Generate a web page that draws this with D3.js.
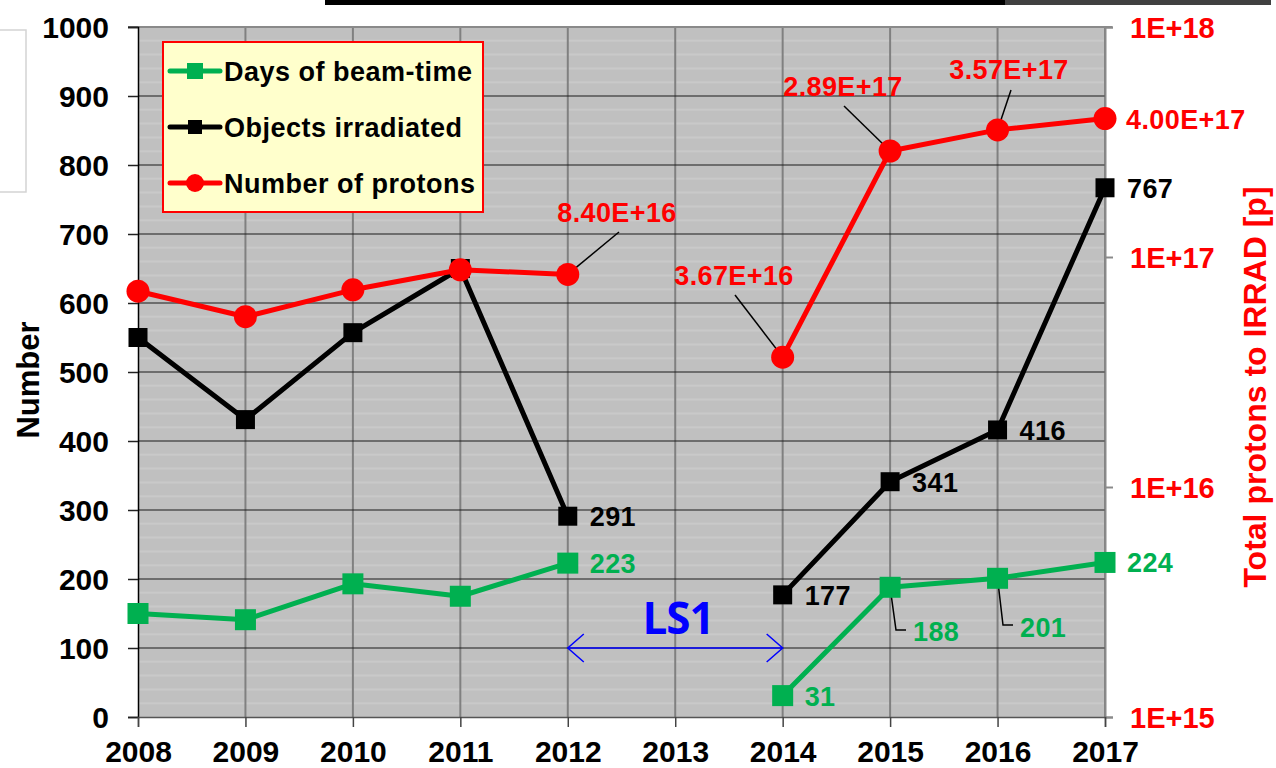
<!DOCTYPE html>
<html>
<head>
<meta charset="utf-8">
<script src="https://cdn.jsdelivr.net/npm/d3@7"></script>
<style>
  body { margin: 0; background: #fff; }
  svg { display: block; font-family: "Liberation Sans", Arial, sans-serif; font-weight: bold; }
</style>
</head>
<body>
<div id="chart"></div>
<script>
// data //
var years = [2008, 2009, 2010, 2011, 2012, 2013, 2014, 2015, 2016, 2017];
var daysBeam = [150, 141, 193, 175, 223, null, 31, 188, 201, 224];
var objects = [550, 431, 557, 650, 291, null, 177, 341, 416, 767];
var protons = [7.1e16, 5.5e16, 7.2e16, 8.8e16, 8.40e16, null, 3.67e16, 2.89e17, 3.57e17, 4.00e17];
var leftTicks = [0, 100, 200, 300, 400, 500, 600, 700, 800, 900, 1000];
var rightTicks = [1e15, 1e16, 1e17, 1e18];
var rightTickLabels = ["1E+15", "1E+16", "1E+17", "1E+18"];
var seriesNames = ["Days of beam-time", "Objects irradiated", "Number of protons"];

var W = 1276, H = 768;
var pLeft = 138, pRight = 1105, pTop = 27, pBottom = 717;
var green = "#00b050", red = "#ff0000";

var svg = d3.select("#chart").append("svg")
  .attr("width", W).attr("height", H);

// slide leftovers
svg.append("rect").attr("x", 325).attr("y", 0).attr("width", 680).attr("height", 5).attr("fill", "#000");
svg.append("rect").attr("x", 1005).attr("y", 0).attr("width", 266).attr("height", 5).attr("fill", "#404040");
svg.append("path").attr("d", "M0,30H26V192H0").attr("fill", "none").attr("stroke", "#d4d4d4").attr("stroke-width", 1.5);

var x = d3.scaleLinear().domain([2008, 2017]).range([pLeft, pRight]);
var y = d3.scaleLinear().domain([0, 1000]).range([pBottom, pTop]);
var yr = d3.scaleLog().domain([1e15, 1e18]).range([pBottom, pTop]);

// plot background
svg.append("rect").attr("x", pLeft).attr("y", pTop)
  .attr("width", pRight - pLeft).attr("height", pBottom - pTop).attr("fill", "#c0c0c0");

// minor gridlines
svg.append("g").selectAll("line")
  .data(d3.range(20, 1000, 20).filter(function(d){ return d % 100 != 0; }))
  .enter().append("line")
  .attr("x1", pLeft).attr("x2", pRight)
  .attr("y1", function(d){ return y(d); }).attr("y2", function(d){ return y(d); })
  .attr("stroke", "#c9c9c9").attr("stroke-width", 2);

// vertical gridlines
svg.append("g").selectAll("line")
  .data(years.slice(1))
  .enter().append("line")
  .attr("x1", function(d){ return x(d); }).attr("x2", function(d){ return x(d); })
  .attr("y1", pTop).attr("y2", pBottom)
  .attr("stroke", "#808080").attr("stroke-width", 2);

// major gridlines
svg.append("g").selectAll("line")
  .data(leftTicks.slice(1, -1))
  .enter().append("line")
  .attr("x1", pLeft).attr("x2", pRight)
  .attr("y1", function(d){ return y(d); }).attr("y2", function(d){ return y(d); })
  .attr("stroke", "#1a1a1a").attr("stroke-width", 1.2);

// top border
svg.append("line").attr("x1", 128).attr("x2", 1112).attr("y1", pTop).attr("y2", pTop)
  .attr("stroke", "#8a8a8a").attr("stroke-width", 2);

// left axis
var yAxis = svg.append("g").attr("transform", "translate(" + pLeft + ",0)")
  .call(d3.axisLeft(y).tickValues(leftTicks).tickSize(10).tickPadding(19).tickFormat(d3.format("d")));
yAxis.select(".domain").attr("stroke", "#000").attr("stroke-width", 1.5);
yAxis.selectAll(".tick line").attr("stroke", "#222").attr("stroke-width", 1.5);
yAxis.selectAll(".tick text").attr("font-size", 30).attr("font-family", "Liberation Sans, Arial")
  .attr("font-weight", "bold").attr("fill", "#000").attr("dy", "0.36em");

// right axis
var yrAxis = svg.append("g").attr("transform", "translate(" + pRight + ",0)")
  .call(d3.axisRight(yr).tickValues(rightTicks).tickSize(8).tickPadding(17)
    .tickFormat(function(d, i){ return rightTickLabels[i]; }));
yrAxis.select(".domain").attr("stroke", "#8a8a8a").attr("stroke-width", 2);
yrAxis.selectAll(".tick line").attr("stroke", "#8a8a8a").attr("stroke-width", 2);
yrAxis.selectAll(".tick text").attr("font-size", 29).attr("font-family", "Liberation Sans, Arial")
  .attr("font-weight", "bold").attr("fill", red).attr("dy", "0.36em");

// bottom axis
var xAxis = svg.append("g").attr("transform", "translate(0," + pBottom + ")")
  .call(d3.axisBottom(x).tickValues(years).tickSize(10).tickPadding(14).tickFormat(d3.format("d")));
xAxis.select(".domain").attr("stroke", "#555").attr("stroke-width", 1.5);
xAxis.selectAll(".tick line").attr("stroke", "#444").attr("stroke-width", 1.5);
xAxis.selectAll(".tick text").attr("font-size", 30).attr("font-family", "Liberation Sans, Arial")
  .attr("font-weight", "bold").attr("fill", "#000").attr("dy", "0.7em");

// axis titles
svg.append("text").attr("transform", "translate(39,380) rotate(-90)")
  .attr("text-anchor", "middle").attr("font-size", 31).text("Number");
svg.append("text").attr("transform", "translate(1266,387) rotate(-90)")
  .attr("text-anchor", "middle").attr("font-size", 32).attr("fill", red)
  .text("Total protons to IRRAD [p]");

// series
function drawLine(vals, scale, color) {
  var line = d3.line()
    .defined(function(d){ return d != null; })
    .x(function(d, i){ return x(years[i]); })
    .y(function(d){ return scale(d); });
  svg.append("path").datum(vals).attr("d", line)
    .attr("fill", "none").attr("stroke", color).attr("stroke-width", 5)
    .attr("stroke-linejoin", "round");
}

var pts = function(vals) {
  return vals.map(function(v, i){ return {yr: years[i], v: v}; }).filter(function(d){ return d.v != null; });
};

// leader lines (drawn under markers)
function leader(p) {
  svg.append("polyline").attr("points", p.join(" "))
    .attr("fill", "none").attr("stroke", "#000").attr("stroke-width", 1.5);
}

drawLine(daysBeam, y, green);
drawLine(objects, y, "#000");
drawLine(protons, yr, red);

leader([[x(2012), yr(protons[4])], [619, 232]]);
leader([[x(2014), yr(protons[6])], [735, 295]]);
leader([[x(2015), yr(protons[7])], [844, 106]]);
leader([[x(2016), yr(protons[8])], [1011, 90]]);
leader([[x(2015), y(daysBeam[7])], [896, 630], [906, 630]]);
leader([[x(2016), y(daysBeam[8])], [1003, 625], [1013, 625]]);

svg.append("g").selectAll("rect").data(pts(daysBeam)).enter().append("rect")
  .attr("x", function(d){ return x(d.yr) - 10.5; }).attr("y", function(d){ return y(d.v) - 10.5; })
  .attr("width", 21).attr("height", 21).attr("fill", green);
svg.append("g").selectAll("rect").data(pts(objects)).enter().append("rect")
  .attr("x", function(d){ return x(d.yr) - 9.5; }).attr("y", function(d){ return y(d.v) - 9.5; })
  .attr("width", 19).attr("height", 19).attr("fill", "#000");
svg.append("g").selectAll("circle").data(pts(protons)).enter().append("circle")
  .attr("cx", function(d){ return x(d.yr); }).attr("cy", function(d){ return yr(d.v); })
  .attr("r", 11.5).attr("fill", red);

// data labels
function label(tx, ty, txt, color, anchor) {
  svg.append("text").attr("x", tx).attr("y", ty).attr("font-size", 27)
    .attr("letter-spacing", 0.4)
    .attr("text-anchor", anchor || "start").attr("fill", color).text(txt);
}
var fmtE = function(v){ return v.toExponential(2).toUpperCase(); };

label(617, 222, fmtE(protons[4]), red, "middle");
label(734, 285, fmtE(protons[6]), red, "middle");
label(843, 96, fmtE(protons[7]), red, "middle");
label(1009, 79, fmtE(protons[8]), red, "middle");
label(x(2017) + 21, yr(protons[9]) + 10, fmtE(protons[9]), red);

[4, 6, 7, 8, 9].forEach(function(i){
  label(x(years[i]) + 22, y(objects[i]) + 10, objects[i], "#000");
});
label(x(2012) + 22, y(daysBeam[4]) + 10, daysBeam[4], green);
label(x(2014) + 22, y(daysBeam[6]) + 10, daysBeam[6], green);
label(x(2017) + 22, y(daysBeam[9]) + 10, daysBeam[9], green);
label(913, 641, daysBeam[7], green);
label(1020, 637, daysBeam[8], green);

// LS1 arrow
var ay = y(100);
svg.append("line").attr("x1", x(2012)).attr("x2", x(2014)).attr("y1", ay).attr("y2", ay)
  .attr("stroke", "#0000ff").attr("stroke-width", 1.5);
svg.append("path").attr("d", "M" + (x(2012) + 16) + "," + (ay - 14) + "L" + x(2012) + "," + ay + "L" + (x(2012) + 16) + "," + (ay + 14))
  .attr("fill", "none").attr("stroke", "#0000ff").attr("stroke-width", 1.5);
svg.append("path").attr("d", "M" + (x(2014) - 16) + "," + (ay - 14) + "L" + x(2014) + "," + ay + "L" + (x(2014) - 16) + "," + (ay + 14))
  .attr("fill", "none").attr("stroke", "#0000ff").attr("stroke-width", 1.5);
svg.append("text").attr("x", 678).attr("y", 634).attr("text-anchor", "middle")
  .attr("font-family", "Open Sans, Liberation Sans").attr("font-size", 44)
  .attr("fill", "#0000ff").attr("letter-spacing", -1).text("LS1");

// legend
var lg = svg.append("g");
lg.append("rect").attr("x", 163).attr("y", 42).attr("width", 320).attr("height", 170)
  .attr("fill", "#ffffcc").attr("stroke", red).attr("stroke-width", 2);
var legColors = [green, "#000", red];
seriesNames.forEach(function(name, i){
  var cy = 71 + i * 56;
  lg.append("line").attr("x1", 170).attr("x2", 220).attr("y1", cy).attr("y2", cy)
    .attr("stroke", legColors[i]).attr("stroke-width", 5).attr("stroke-linecap", "round");
  if (i < 2) {
    var s = i == 0 ? 16 : 14;
    lg.append("rect").attr("x", 195 - s / 2).attr("y", cy - s / 2).attr("width", s).attr("height", s)
      .attr("fill", legColors[i]);
  } else {
    lg.append("circle").attr("cx", 195).attr("cy", cy).attr("r", 9).attr("fill", red);
  }
  lg.append("text").attr("x", 224).attr("y", cy + 10).attr("font-size", 27)
    .attr("letter-spacing", 0.5).attr("fill", "#000").text(name);
});
</script>
</body>
</html>
